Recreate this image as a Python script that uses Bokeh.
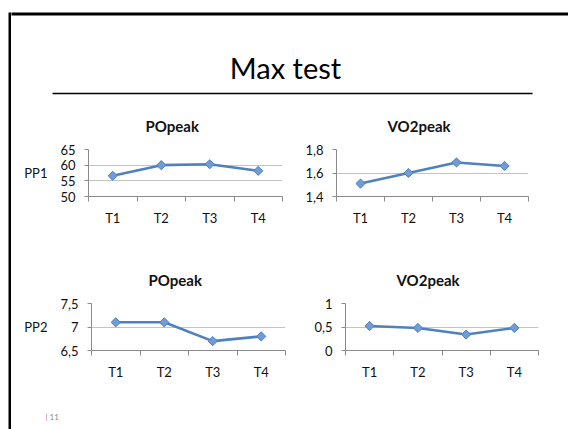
from bokeh.plotting import figure
from bokeh.layouts import column, row
from bokeh.models import Range1d, FixedTicker, Spacer
from bokeh.core.properties import value
from bokeh.embed import file_html
from bokeh.resources import INLINE

# ---------------- data ----------------
categories = ["T1", "T2", "T3", "T4"]

pp1_popeak = [56.6, 60.0, 60.3, 58.2]
pp1_vo2peak = [1.51, 1.60, 1.69, 1.66]
pp2_popeak = [7.1, 7.1, 6.7, 6.8]
pp2_vo2peak = [0.52, 0.48, 0.34, 0.48]

pp1_popeak_ticks = [50, 55, 60, 65]
pp1_popeak_tick_labels = ["50", "55", "60", "65"]
pp1_vo2peak_ticks = [1.4, 1.6, 1.8]
pp1_vo2peak_tick_labels = ["1,4", "1,6", "1,8"]
pp2_popeak_ticks = [6.5, 7, 7.5]
pp2_popeak_tick_labels = ["6,5", "7", "7,5"]
pp2_vo2peak_ticks = [0, 0.5, 1]
pp2_vo2peak_tick_labels = ["0", "0,5", "1"]

slide_title = "Max test"
chart_titles = ["POpeak", "VO2peak"]
row_labels = ["PP1", "PP2"]
page_number = "| 11"

# ---------------- style ----------------
FONT = "Lato"
AXIS_COLOR = "#8a8a8a"
GRID_COLOR = "#c4c4c4"
LINE_COLOR = "#4f81bd"
MARKER_FILL = "#6f9bd6"
TEXT_COLOR = "#111111"


def blank(width, height, color=None):
    p = figure(width=width, height=height, output_backend="svg", toolbar_location=None,
               title=None, min_border=0, x_axis_type=None, y_axis_type=None,
               x_range=Range1d(0, width), y_range=Range1d(height, 0))
    p.grid.visible = False
    p.outline_line_color = None
    if color is not None:
        p.background_fill_color = color
        p.border_fill_color = color
    return p


def chart(title, values, ticks, tick_labels, row_label, width, height,
          bl, br, bt, bb, title_offset):
    p = figure(width=width, height=height, output_backend="svg", toolbar_location=None,
               x_range=Range1d(0, len(categories)),
               y_range=Range1d(ticks[0], ticks[-1]),
               min_border_left=bl, min_border_right=br,
               min_border_top=bt, min_border_bottom=bb)
    p.outline_line_color = None
    p.title.text = title
    p.title.align = "left"
    p.title.offset = title_offset
    p.title.text_font = FONT
    p.title.text_font_size = "15px"
    p.title.text_font_style = "bold"
    p.title.text_color = TEXT_COLOR
    p.title.standoff = 30

    xs = [i + 0.5 for i in range(len(categories))]
    xax = p.xaxis[0]
    xax.ticker = FixedTicker(ticks=xs, minor_ticks=list(range(len(categories) + 1)))
    xax.major_label_overrides = {x: c for x, c in zip(xs, categories)}
    xax.major_tick_in = 0
    xax.major_tick_out = 0
    xax.minor_tick_in = 0
    xax.minor_tick_out = 5
    xax.minor_tick_line_color = AXIS_COLOR
    xax.axis_line_color = AXIS_COLOR
    xax.major_label_standoff = 8
    xax.major_label_text_font = FONT
    xax.major_label_text_font_size = "13px"
    xax.major_label_text_color = TEXT_COLOR

    yax = p.yaxis[0]
    yax.ticker = FixedTicker(ticks=ticks)
    yax.major_label_overrides = dict(zip(ticks, tick_labels))
    yax.major_tick_in = 0
    yax.major_tick_out = 4
    yax.major_tick_line_color = AXIS_COLOR
    yax.minor_tick_out = 0
    yax.minor_tick_in = 0
    yax.axis_line_color = AXIS_COLOR
    yax.major_label_standoff = 9
    yax.major_label_text_font = FONT
    yax.major_label_text_font_size = "13px"
    yax.major_label_text_color = TEXT_COLOR
    if row_label:
        yax.axis_label = row_label
        yax.axis_label_orientation = "horizontal"
        yax.axis_label_standoff = 10
        yax.axis_label_text_font = FONT
        yax.axis_label_text_font_size = "13px"
        yax.axis_label_text_font_style = "normal"
        yax.axis_label_text_color = TEXT_COLOR

    p.xgrid.visible = False
    p.ygrid.ticker = FixedTicker(ticks=ticks)
    p.ygrid.grid_line_color = GRID_COLOR

    p.line(xs, values, line_color=LINE_COLOR, line_width=2.6)
    p.scatter(xs, values, marker="square", angle=0.785398, size=6.5,
              fill_color=MARKER_FILL, line_color=LINE_COLOR, line_width=1)
    return p


# ---------------- slide pieces ----------------
# header: page x 11..568, y 12..97 ; draws the slide's top border
header = blank(557, 85)
header.quad(left=[-1], right=[558], top=[-1], bottom=[3], fill_color="#000000", line_color=None)
header.text(x=[274], y=[55], text=[slide_title], text_font=value(FONT),
            text_font_size="29px", text_align="center", text_baseline="alphabetic",
            text_color="#000000")
header.line(x=[41, 521], y=[81, 81], line_color="#000000", line_width=1.5)

tl = chart(chart_titles[0], pp1_popeak, pp1_popeak_ticks, pp1_popeak_tick_labels,
           row_labels[0], 279, 153, 77, 8, 52, 54, 57)
tr = chart(chart_titles[1], pp1_vo2peak, pp1_vo2peak_ticks, pp1_vo2peak_tick_labels,
           None, 278, 153, 46, 40, 52, 54, 51)
bl = chart(chart_titles[0], pp2_popeak, pp2_popeak_ticks, pp2_popeak_tick_labels,
           row_labels[1], 279, 150, 80, 5, 53, 50, 57)
br = chart(chart_titles[1], pp2_vo2peak, pp2_vo2peak_ticks, pp2_vo2peak_tick_labels,
           None, 278, 150, 55, 30, 53, 50, 51)

footer = blank(557, 29)
footer.text(x=[34], y=[16], text=[page_number], text_font=value(FONT),
            text_font_size="8px", text_align="left", text_baseline="middle",
            text_color="#8c8c8c")

content = column(header, row(tl, tr), row(bl, br), footer)
left_bar = blank(3, 417, "#000000")

layout = row(Spacer(width=8, height=429),
             column(Spacer(width=560, height=12), row(left_bar, content)))

open("out.html", "w").write(file_html(layout, INLINE))
